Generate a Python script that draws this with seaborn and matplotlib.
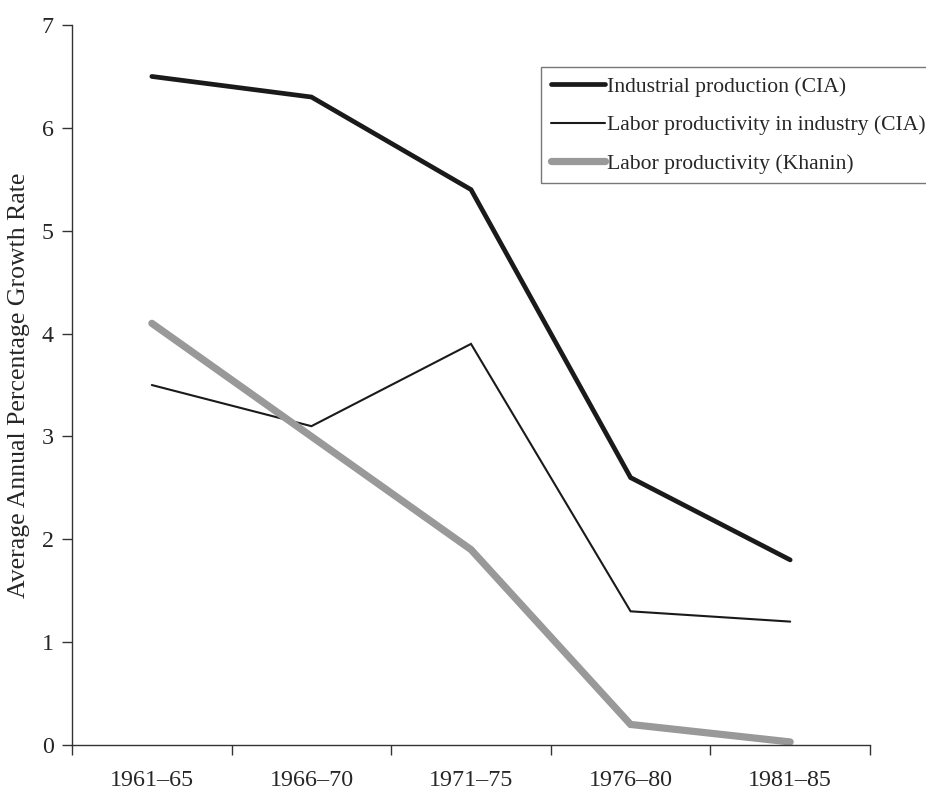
import matplotlib
matplotlib.use("Agg")
import matplotlib.pyplot as plt
import seaborn as sns
import pandas as pd

periods = ["1961\u201365", "1966\u201370", "1971\u201375", "1976\u201380", "1981\u201385"]
industrial_cia = [6.5, 6.3, 5.4, 2.6, 1.8]
labor_cia = [3.5, 3.1, 3.9, 1.3, 1.2]
labor_khanin = [4.1, 3.0, 1.9, 0.2, 0.03]

series_names = ["Industrial production (CIA)",
                "Labor productivity in industry (CIA)",
                "Labor productivity (Khanin)"]

sns.set_style("ticks")
plt.rcParams['font.family'] = ['Liberation Serif', 'DejaVu Serif']

df = pd.DataFrame({"period": periods * 3,
                   "value": industrial_cia + labor_cia + labor_khanin,
                   "series": [s for s in series_names for _ in periods]})

fig = plt.figure(figsize=(9.26, 7.92), dpi=100)
ax = fig.add_axes([0.0778, 0.0593, 0.8617, 0.9091])

styles = {series_names[0]: ("#1a1a1a", 3.4),
          series_names[1]: ("#1a1a1a", 1.5),
          series_names[2]: ("#999999", 5.2)}
for name in series_names:
    col, lw = styles[name]
    sns.lineplot(data=df[df["series"] == name], x="period", y="value", ax=ax,
                 color=col, linewidth=lw, label=name, sort=False,
                 solid_capstyle="round", solid_joinstyle="miter")

ax.set_xlim(-0.5, 4.5)
ax.set_ylim(0, 7)
ax.set_xticks([-0.5, 0.5, 1.5, 2.5, 3.5, 4.5])
ax.set_xticklabels([""] * 6)
ax.set_xticks(range(len(periods)), minor=True)
ax.set_xticklabels(periods, minor=True)
ax.tick_params(axis="x", which="minor", length=0, pad=18, labelsize=17.3)
ax.tick_params(axis="x", which="major", length=7, width=1, color="#333333")
ax.tick_params(axis="y", length=7, width=1, color="#333333", labelsize=17.3, pad=6)
ax.set_yticks(range(0, 8))
ax.set_xlabel("")
ax.set_ylabel("Average Annual Percentage Growth Rate", fontsize=18.5, va="center")
ax.yaxis.set_label_coords(-0.067, 0.5)
for s in ["top", "right"]:
    ax.spines[s].set_visible(False)
for s in ["left", "bottom"]:
    ax.spines[s].set_color("#333333")
    ax.spines[s].set_linewidth(1)

handles, labels = ax.get_legend_handles_labels()
ax.get_legend().remove()
leg = fig.legend(handles, labels, loc="upper left", bbox_to_anchor=(0.5842, 0.9154),
                 fontsize=15.6, frameon=True, fancybox=False, handlelength=2.5,
                 handletextpad=0.12, labelspacing=0.84, borderpad=0.45,
                 borderaxespad=0)
leg.get_frame().set_edgecolor("#555555")
leg.get_frame().set_linewidth(1)

fig.savefig("out.png", dpi=100)
